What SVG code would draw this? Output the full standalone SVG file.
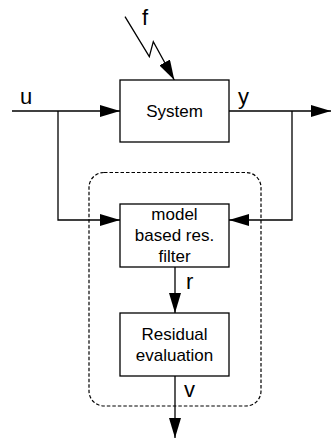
<svg xmlns="http://www.w3.org/2000/svg" width="331" height="440" viewBox="0 0 331 440">
<defs>
<style>
.box{fill:#fff;stroke:#000;stroke-width:1.3}
.ln{fill:none;stroke:#000;stroke-width:1.3}
.t{font-family:"Liberation Sans",Arial,sans-serif;font-size:17px;text-anchor:middle;fill:#000}
.lb{font-family:"Liberation Sans",Arial,sans-serif;font-size:22px;fill:#000}
</style>
<marker id="ah" viewBox="0 0 20 12" refX="20" refY="6" markerWidth="20" markerHeight="12" markerUnits="userSpaceOnUse" orient="auto">
<path d="M0,0 L20,6 L0,12 Z" fill="#000"/>
</marker>
</defs>
<rect width="331" height="440" fill="#fff"/>
<g id="supervisor">
<rect x="89" y="172.5" width="172" height="233.5" rx="15" fill="none" stroke="#000" stroke-width="1.2" stroke-dasharray="3.5,2"/>
</g>
<g id="connectors">
<path class="ln" d="M12,111 H120" marker-end="url(#ah)"/>
<path class="ln" d="M229,111 H331" marker-end="url(#ah)"/>
<path class="ln" d="M58,111 V220 H120" marker-end="url(#ah)"/>
<path class="ln" d="M292,111 V220 H229" marker-end="url(#ah)"/>
<path class="ln" d="M175,267 V313" marker-end="url(#ah)"/>
<path class="ln" d="M175,376 V438" marker-end="url(#ah)"/>
<path class="ln" d="M125,16.7 L149.3,56.7 L153.3,41.7 L174.3,80" marker-end="url(#ah)"/>
</g>
<g id="system">
<rect class="box" x="120" y="80" width="109" height="62"/>
<text class="t" x="174.5" y="117">System</text>
</g>
<g id="filter">
<rect class="box" x="120" y="204" width="109" height="63"/>
<text class="t" x="174.5" y="220">model</text>
<text class="t" x="174.5" y="241">based res.</text>
<text class="t" x="174.5" y="262">filter</text>
</g>
<g id="evaluation">
<rect class="box" x="120" y="313" width="109" height="63"/>
<text class="t" x="174.5" y="340">Residual</text>
<text class="t" x="174.5" y="361">evaluation</text>
</g>
<g id="labels">
<text class="lb" x="20" y="104">u</text>
<text class="lb" x="238" y="104">y</text>
<text class="lb" x="142" y="25">f</text>
<text class="lb" x="186" y="289">r</text>
<text class="lb" x="184" y="397">v</text>
</g>
</svg>
